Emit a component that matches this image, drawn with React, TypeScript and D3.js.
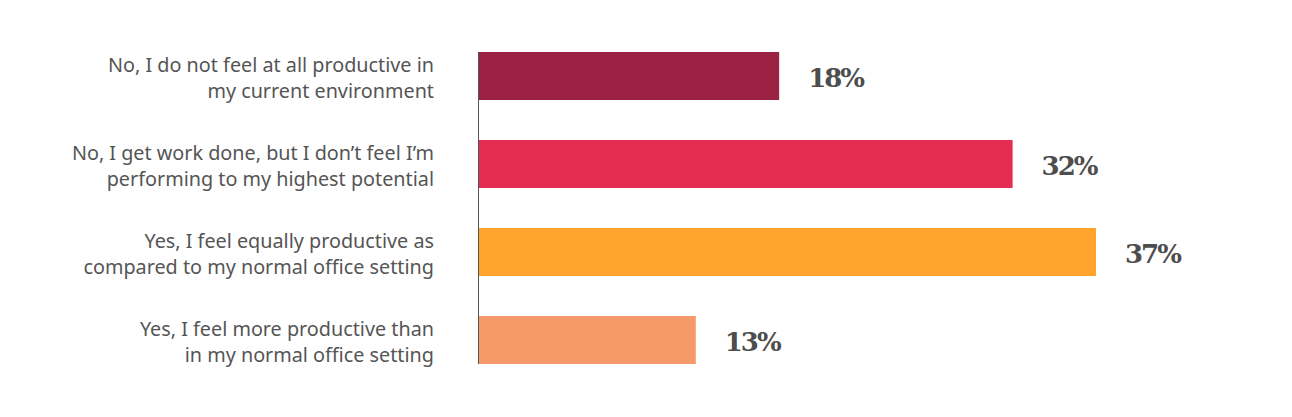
import React from "react";
import * as d3 from "d3";

const categories = [
  ["No, I do not feel at all productive in", "my current environment"],
  ["No, I get work done, but I don\u2019t feel I\u2019m", "performing to my highest potential"],
  ["Yes, I feel equally productive as", "compared to my normal office setting"],
  ["Yes, I feel more productive than", "in my normal office setting"],
];
const values = [18, 32, 37, 13];
const colors = ["#9B2242", "#E52D51", "#FFA32C", "#F69A6A"];

const width = 1292;
const height = 417;

const App: React.FC = () => {
  const keys = categories.map((c, i) => String(i));
  const x = d3.scaleLinear().domain([0, 37]).range([479, 1096]);
  const y = d3
    .scaleBand<string>()
    .domain(keys)
    .range([32, 384])
    .paddingInner(40 / 88)
    .paddingOuter(20 / 88);
  const bw = y.bandwidth();

  return (
    <svg
      width={width}
      height={height}
      style={{ position: "absolute", left: 0, top: 0, background: "#fff" }}
    >
      {keys.map((k, i) => {
        const y0 = y(k) as number;
        const cy = y0 + bw / 2;
        return (
          <g key={k}>
            <rect
              x={x(0)}
              y={y0}
              width={x(values[i]) - x(0)}
              height={bw}
              fill={colors[i]}
            />
            <text
              x={x(values[i]) + 29}
              y={cy + 11}
              fontFamily="'DejaVu Serif'"
              fontWeight="bold"
              fontSize={26}
              letterSpacing={-2}
              fill="#4d4d4d"
            >
              {values[i]}%
            </text>
            <text
              textAnchor="end"
              fontFamily="'Noto Sans'"
              fontSize={19.8}
              fill="#555"
            >
              <tspan x={434} y={cy - 4}>
                {categories[i][0]}
              </tspan>
              <tspan x={434} y={cy + 22}>
                {categories[i][1]}
              </tspan>
            </text>
          </g>
        );
      })}
      <line
        x1={478.5}
        x2={478.5}
        y1={y("0") as number}
        y2={(y("3") as number) + bw}
        stroke="#555"
        strokeWidth={1}
      />
    </svg>
  );
};

export default App;
